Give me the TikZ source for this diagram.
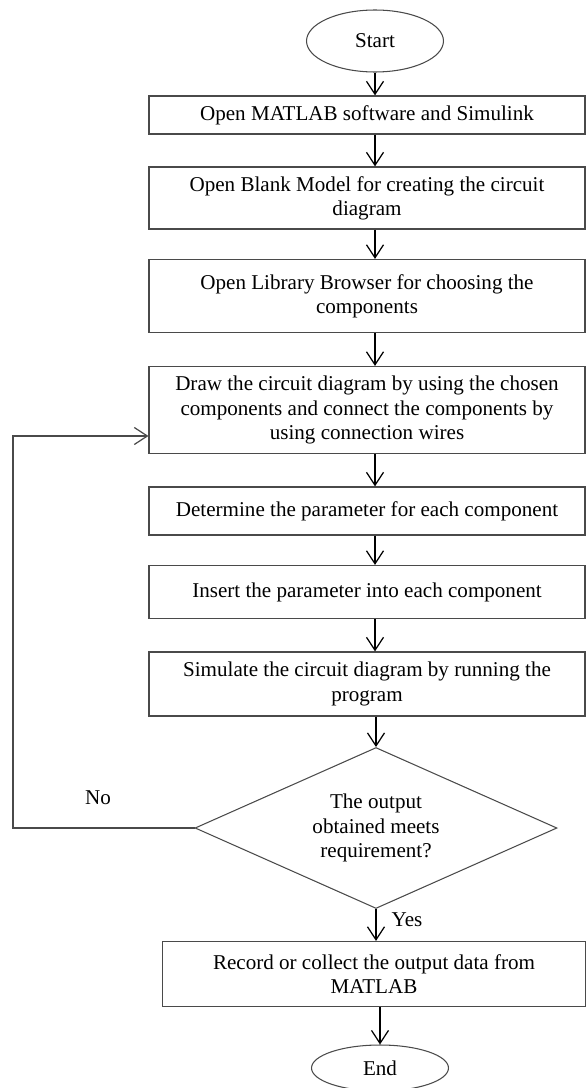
\documentclass[tikz,border=0pt]{standalone}
\usepackage{fontspec}
\setmainfont{Liberation Serif}
\usetikzlibrary{arrows.meta, shapes.geometric, positioning}
\definecolor{edge}{HTML}{4A4A4A}

\begin{document}
\begin{tikzpicture}[
  x=0.02cm, y=-0.02cm,
  stepbox/.style  = {draw=edge, line width=0.7pt, minimum width=8.72cm, inner sep=0pt, align=center, font=\fontsize{12}{13.8}\selectfont},
  termnode/.style = {ellipse, draw=edge, line width=0.6pt, minimum width=2.74cm, minimum height=1.24cm, inner sep=0pt, font=\fontsize{12}{13.8}\selectfont},
  decide/.style   = {diamond, aspect=2.25, draw=edge, line width=0.6pt, minimum width=7.24cm, minimum height=3.22cm, inner sep=0pt, align=center, font=\fontsize{12}{13.8}\selectfont},
  arr/.style      = {-{Straight Barb[length=2.6mm,width=3.4mm]}, line width=0.7pt, black},
  lbl/.style      = {font=\fontsize{12}{13.8}\selectfont},
]
\useasboundingbox (0,0) rectangle (586,1088);
\node[termnode] (start) at (375, 41) {Start};
\node[stepbox, minimum height=0.76cm] (b1) at (367, 115) {Open MATLAB software and Simulink};
\node[stepbox, minimum height=1.24cm] (b2) at (367, 198) {Open Blank Model for creating the circuit\\diagram};
\node[stepbox, minimum height=1.46cm] (b3) at (367, 296) {Open Library Browser for choosing the\\components};
\node[stepbox, minimum height=1.74cm] (b4) at (367, 410) {Draw the circuit diagram by using the chosen\\components and connect the components by\\using connection wires};
\node[stepbox, minimum height=0.96cm] (b5) at (367, 511) {Determine the parameter for each component};
\node[stepbox, minimum height=1.06cm] (b6) at (367, 592) {Insert the parameter into each component};
\node[stepbox, minimum height=1.28cm] (b7) at (367, 684) {Simulate the circuit diagram by running the\\program};
\node[decide] (dec) at (376, 828) {The output\\obtained meets\\requirement?};
\node[stepbox, minimum width=8.46cm, minimum height=1.3cm] (rec) at (374, 974) {Record or collect the output data from\\MATLAB};
\node[termnode, minimum height=0.92cm] (stop) at (380, 1068) {End};
\node[lbl] (no) at (98, 798) {No};
\node[lbl] (yes) at (407, 920) {Yes};
\coordinate (fbk) at (13, 828);
\coordinate (fbin) at ([yshift=-0.52cm]b4.west);
% main flow
\draw[arr] (start.south) -- (start.south |- b1.north);
\draw[arr] (b1.south -| start) -- (b2.north -| start);
\draw[arr] (b2.south -| start) -- (b3.north -| start);
\draw[arr] (b3.south -| start) -- (b4.north -| start);
\draw[arr] (b4.south -| start) -- (b5.north -| start);
\draw[arr] (b5.south -| start) -- (b6.north -| start);
\draw[arr] (b6.south -| start) -- (b7.north -| start);
\draw[arr] (b7.south -| dec) -- (dec.north);
\draw[arr] (dec.south) -- (dec.south |- rec.north);
\draw[arr] (rec.south -| stop) -- (stop.north);
% loop back
\draw[arr, edge] (dec.west) -- (fbk) |- (fbin);
\end{tikzpicture}
\end{document}
